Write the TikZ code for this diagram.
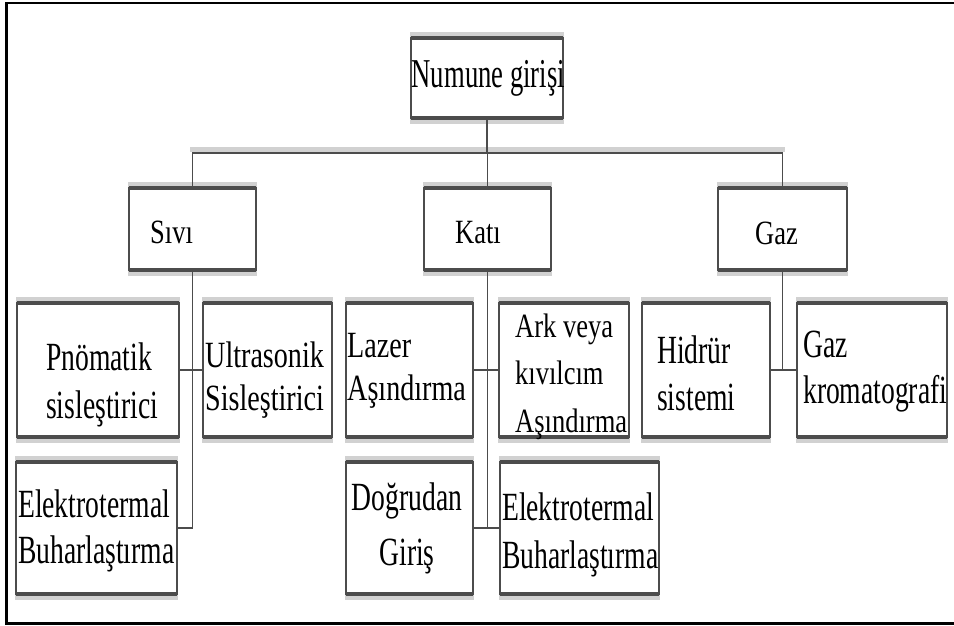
\documentclass[tikz,border=0pt]{standalone}
\usepackage{fontspec}
\setmainfont{Liberation Serif}
\newfontfamily\fnA[FakeStretch=0.65]{Liberation Serif}
\newfontfamily\fnB[FakeStretch=0.69]{Liberation Serif}
\newfontfamily\fnC[FakeStretch=0.76]{Liberation Serif}
\newfontfamily\fnD[FakeStretch=0.78]{Liberation Serif}
\definecolor{edgegray}{gray}{0.3}
\definecolor{halogray}{gray}{0.82}
\newcommand\mkbox[5]{%
  \path[fill=halogray] (#2-1,#3-6) rectangle (#4+1,#3);
  \path[fill=halogray] (#2-1,#5) rectangle (#4+1,#5+6);
  \node[box, minimum width={#4-#2}, minimum height={#5-#3}] (#1) at ({(#2+#4)/2},{(#3+#5)/2}) {};
  \draw[bar] (#1.north west) -- (#1.north east);
  \draw[bar] (#1.south west) -- (#1.south east);
}
\begin{document}
\begin{tikzpicture}[x=1pt,y=-1pt,
  box/.style={draw=edgegray, line width=1.3pt, fill=white, rectangle, inner sep=0pt, outer sep=0pt},
  bar/.style={draw=edgegray, line width=3.5pt},
  conn/.style={draw=edgegray, line width=1.6pt},
  lbl/.style={inner sep=0pt, align=left, anchor=base west, text=black},
  clbl/.style={inner sep=0pt, align=center, anchor=base, text=black},
]
\useasboundingbox (0,0) rectangle (954,625);
\fill[white] (0,0) rectangle (954,625);

% frame
\draw[line width=2.5pt] (954,3) -- (6.5,3) -- (6.5,623.5) -- (954,623.5);

% boxes
\mkbox{num}{411}{38}{563}{118}
\mkbox{siv}{129}{188}{256}{270}
\mkbox{kat}{424}{188}{551}{270}
\mkbox{gaz}{718}{188}{847}{270}
\mkbox{pno}{17}{303}{179}{437}
\mkbox{ult}{203}{303}{332}{437}
\mkbox{laz}{346}{303}{473}{437}
\mkbox{ark}{499}{303}{629}{437}
\mkbox{hid}{642}{303}{770}{437}
\mkbox{gkr}{797}{303}{947}{437}
\mkbox{ebA}{16}{462}{177}{594}
\mkbox{dog}{346}{462}{473}{594}
\mkbox{ebB}{500}{462}{659}{594}

% bus
\coordinate (bus) at (486,153);
\fill[halogray] (190,147) rectangle (785,152);
\draw[conn] (num.south) -- (num.south |- bus);
\draw[conn] (siv.north) -- (siv.north |- bus) -- (gaz.north |- bus) -- (gaz.north);
\draw[conn] (kat.north) -- (kat.north |- bus);

% Sivi branch
\draw[conn] (siv.south) -- (siv.south |- ebA.east) -- (ebA.east);
\draw[conn] (pno.east) -- (ult.west);
% Kati branch
\draw[conn] (kat.south) -- (kat.south |- ebB.west) -- (ebB.west);
\draw[conn] (laz.east) -- (ark.west);
\draw[conn] (dog.east) -- (ebB.west);
% Gaz branch
\draw[conn] (gaz.south) -- (gaz.south |- hid.east);
\draw[conn] (hid.east) -- (gkr.west);

% texts (multi-line nodes: anchor is the baseline of the last line)
\node[lbl, font=\fnA\fontsize{41}{41}\selectfont] (tnum) at (411.5,87) {Numune girişi};
\node[lbl, font=\fnD\fontsize{34}{40}\selectfont] (tsiv) at (150,243) {Sıvı};
\node[lbl, font=\fnD\fontsize{34}{40}\selectfont] (tkat) at (455,243) {Katı};
\node[lbl, font=\fnD\fontsize{34}{40}\selectfont] (tgaz) at (755,244) {Gaz};

\node[lbl, font=\fnB\fontsize{40}{48}\selectfont] (tpno) at (46,418) {Pnömatik\\sisleştirici};
\node[lbl, font=\fnC\fontsize{37}{43}\selectfont] (tult) at (205,410) {Ultrasonik\\Sisleştirici};
\node[lbl, font=\fnC\fontsize{37}{43}\selectfont] (tlaz) at (347,400) {Lazer\\Aşındırma};
\node[lbl, font=\fnD\fontsize{34}{47.5}\selectfont] (tark) at (515,432) {Ark veya\\kıvılcım\\Aşındırma};
\node[lbl, font=\fnB\fontsize{40}{47}\selectfont] (thid) at (657,410) {Hidrür\\sistemi};
\node[lbl, font=\fnB\fontsize{40}{46}\selectfont] (tgkr) at (803,403) {Gaz\\kromatografi};
\node[lbl, font=\fnB\fontsize{40}{46}\selectfont] (tebA) at (18,563) {Elektrotermal\\Buharlaştırma};
\node[clbl, font=\fnB\fontsize{40}{55}\selectfont] (tdog) at (407,565) {Doğrudan\\Giriş};
\node[lbl, font=\fnB\fontsize{40}{48}\selectfont] (tebB) at (502,568) {Elektrotermal\\Buharlaştırma};
\end{tikzpicture}
\end{document}
